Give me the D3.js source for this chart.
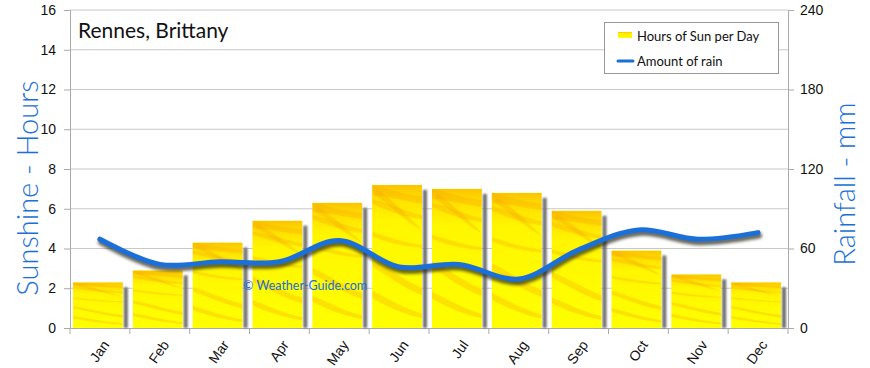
<!DOCTYPE html>
<html>
<head>
<meta charset="utf-8">
<script src="https://cdn.jsdelivr.net/npm/d3@7"></script>
<style>
  body { margin: 0; background: #fff; }
  svg { display: block; font-family: "Comic Sans MS", "Lato", sans-serif; }
</style>
</head>
<body>
<script>
// data
const months = ["Jan", "Feb", "Mar", "Apr", "May", "Jun", "Jul", "Aug", "Sep", "Oct", "Nov", "Dec"];
const sunHours = [2.3, 2.9, 4.3, 5.4, 6.3, 7.2, 7.0, 6.8, 5.9, 3.9, 2.7, 2.3];
const rainMm = [67, 48, 50, 50, 66, 46, 48, 37, 59, 74, 67, 72];
const sunTicks = [0, 2, 4, 6, 8, 10, 12, 14, 16];
const rainTicks = [0, 60, 120, 180, 240];

const W = 870, H = 368;
const plotL = 70, plotR = 788, plotT = 10, plotB = 328;

const svg = d3.select("body").append("svg").attr("width", W).attr("height", H);
const defs = svg.append("defs");

const x = d3.scaleBand().domain(months).range([plotL, plotR]).padding(0);
const ySun = d3.scaleLinear().domain([0, 16]).range([plotB, plotT]);
const yRain = d3.scaleLinear().domain([0, 240]).range([plotB, plotT]);

// bar texture: yellow with soft orange streaks, scaled to each bar
const pat = defs.append("pattern").attr("id", "sun")
  .attr("patternContentUnits", "objectBoundingBox")
  .attr("width", 1).attr("height", 1);
const g0 = defs.append("linearGradient").attr("id", "sunbase").attr("x1", 0).attr("y1", 0).attr("x2", 0).attr("y2", 1);
g0.append("stop").attr("offset", 0).attr("stop-color", "#fbc400");
g0.append("stop").attr("offset", 0.1).attr("stop-color", "#ffe000");
g0.append("stop").attr("offset", 0.25).attr("stop-color", "#fff600");
g0.append("stop").attr("offset", 1).attr("stop-color", "#ffff00");
pat.append("rect").attr("width", 1).attr("height", 1).attr("fill", "url(#sunbase)");
const streaks = [
  "M0,0.0 C0.3,0.02 0.5,0.06 1,0.08 L1,0.13 C0.6,0.11 0.3,0.08 0,0.07 Z",
  "M0,0.1 C0.4,0.13 0.7,0.19 1,0.21 L1,0.24 C0.6,0.22 0.3,0.18 0,0.13 Z",
  "M0,0.33 C0.3,0.36 0.6,0.4 1,0.42 L1,0.44 C0.6,0.43 0.3,0.4 0,0.36 Z",
  "M0,0.52 C0.3,0.57 0.6,0.66 1,0.72 L1,0.77 C0.6,0.72 0.3,0.63 0,0.57 Z",
  "M0,0.74 C0.3,0.79 0.6,0.86 1,0.9 L1,0.93 C0.6,0.9 0.3,0.85 0,0.79 Z",
  "M0.1,0.03 C0.4,0.1 0.6,0.18 0.9,0.28 L1,0.32 C0.6,0.24 0.4,0.15 0.05,0.07 Z"
];
pat.selectAll("path").data(streaks).join("path")
  .attr("d", d => d).attr("fill", "#f6a400").attr("opacity", 0.3);

const blur = defs.append("filter").attr("id", "blur").attr("x", -0.5).attr("y", -0.5).attr("width", 2).attr("height", 2);
blur.append("feGaussianBlur").attr("stdDeviation", 1);
const lblur = defs.append("filter").attr("id", "lblur").attr("x", -0.1).attr("y", -0.5).attr("width", 1.2).attr("height", 2);
lblur.append("feGaussianBlur").attr("stdDeviation", 1.6);

// gridlines
svg.append("g").selectAll("line").data(sunTicks.slice(1)).join("line")
  .attr("x1", plotL).attr("x2", plotR)
  .attr("y1", d => ySun(d)).attr("y2", d => ySun(d))
  .attr("stroke", "#c8c8c8").attr("stroke-width", 1);

// left axis
const axL = svg.append("g").attr("transform", `translate(${plotL},0)`)
  .call(d3.axisLeft(ySun).tickValues(sunTicks).tickSize(6).tickPadding(8));
axL.selectAll("text").attr("font-size", 14).attr("fill", "#111");

// right axis
const axR = svg.append("g").attr("transform", `translate(${plotR},0)`)
  .call(d3.axisRight(yRain).tickValues(rainTicks).tickSize(6).tickPadding(6));
axR.selectAll("text").attr("font-size", 14).attr("fill", "#111");

// bottom axis
const axB = svg.append("g").attr("transform", `translate(0,${plotB})`)
  .call(d3.axisBottom(x).tickSize(0).tickPadding(0));
axB.selectAll(".tick line").remove();
axB.selectAll("text")
  .attr("text-anchor", "end").attr("font-size", 14).attr("fill", "#111")
  .attr("transform", "translate(6,14) rotate(-55)").attr("dy", "0.35em");
axB.append("g").selectAll("line").data(months.concat("end")).join("line")
  .attr("x1", (d, i) => plotL + i * x.bandwidth()).attr("x2", (d, i) => plotL + i * x.bandwidth())
  .attr("y1", 0).attr("y2", 6).attr("stroke", "#aaa");

svg.selectAll(".domain").attr("stroke", "#aaa");
svg.selectAll(".tick line").attr("stroke", "#aaa");

// bars with side shadows
const bars = svg.append("g");
bars.selectAll("rect.sh").data(sunHours).join("rect").attr("class", "sh")
  .attr("x", (d, i) => x(months[i]) + x.bandwidth() - 6)
  .attr("y", d => ySun(d) + 5)
  .attr("width", 4)
  .attr("height", d => plotB - ySun(d) - 5)
  .attr("fill", "#6e6e6e").attr("filter", "url(#blur)");
bars.selectAll("rect.bar").data(sunHours).join("rect").attr("class", "bar")
  .attr("x", (d, i) => x(months[i]) + 3)
  .attr("y", d => ySun(d))
  .attr("width", x.bandwidth() - 10)
  .attr("height", d => plotB - ySun(d))
  .attr("fill", "url(#sun)");

// watermark
svg.append("text").attr("x", 243).attr("y", 290)
  .attr("font-size", 12.5).attr("fill", "#1a6fd6").text("© Weather-Guide.com");

// rain line
const line = d3.line()
  .x((d, i) => x(months[i]) + x.bandwidth() / 2)
  .y(d => yRain(d))
  .curve(d3.curveCatmullRom.alpha(0.5));
svg.append("path").datum(rainMm).attr("d", line)
  .attr("transform", "translate(1,3)")
  .attr("fill", "none").attr("stroke", "#2a2a1a").attr("stroke-width", 6).attr("opacity", 0.7)
  .attr("stroke-linecap", "round").attr("filter", "url(#lblur)");
svg.append("path").datum(rainMm).attr("d", line)
  .attr("fill", "none").attr("stroke", "#1a6fd8").attr("stroke-width", 5)
  .attr("stroke-linecap", "round");

// title
svg.append("text").attr("x", 78).attr("y", 38).attr("font-size", 21).attr("fill", "#111")
  .text("Rennes, Brittany");

// axis titles
svg.append("text").attr("transform", "translate(38,188) rotate(-90)")
  .attr("text-anchor", "middle").attr("font-size", 29).attr("font-weight", 300).attr("fill", "#1a6fd8")
  .text("Sunshine - Hours");
svg.append("text").attr("transform", "translate(855,184) rotate(-90)")
  .attr("text-anchor", "middle").attr("font-size", 29).attr("font-weight", 300).attr("fill", "#1a6fd8")
  .text("Rainfall - mm");

// legend
const lg = svg.append("g");
lg.append("rect").attr("x", 604.5).attr("y", 22.5).attr("width", 174).attr("height", 51)
  .attr("fill", "#fff").attr("stroke", "#999");
lg.append("rect").attr("x", 618).attr("y", 32).attr("width", 14).attr("height", 6).attr("fill", "url(#sun)");
lg.append("line").attr("x1", 618).attr("x2", 633).attr("y1", 61).attr("y2", 61)
  .attr("stroke", "#1a6fd8").attr("stroke-width", 3).attr("stroke-linecap", "round");
lg.append("text").attr("x", 637).attr("y", 41).attr("font-size", 13).attr("fill", "#111").text("Hours of Sun per Day");
lg.append("text").attr("x", 637).attr("y", 66).attr("font-size", 13).attr("fill", "#111").text("Amount of rain");
</script>
</body>
</html>
